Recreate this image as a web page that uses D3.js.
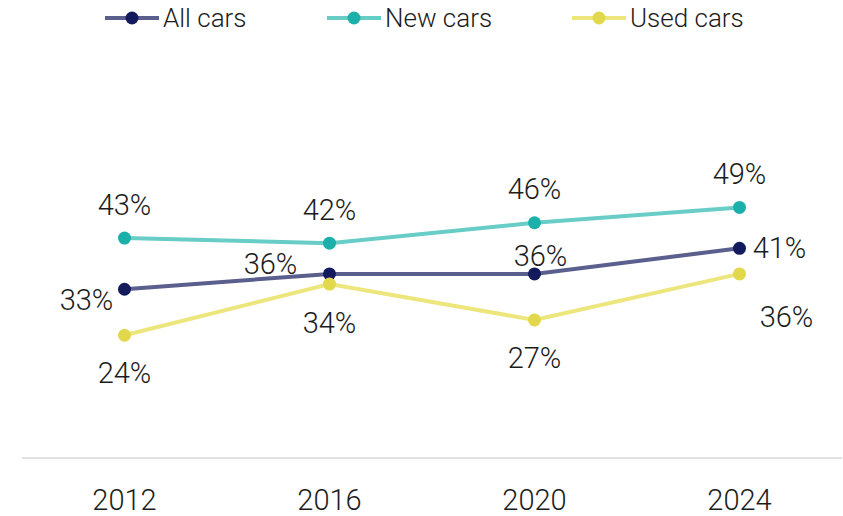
<!DOCTYPE html>
<html>
<head>
<meta charset="utf-8">
<script src="https://cdn.jsdelivr.net/npm/d3@7"></script>
<style>
  body { margin: 0; background: #fff; }
  svg text { font-family: Roboto, "Noto Sans", sans-serif; font-weight: 300; fill: #1c1c1c; }
</style>
</head>
<body>
<div id="chart"></div>
<script>
var years = ["2012", "2016", "2020", "2024"];
var allCars = [33, 36, 36, 41];
var newCars = [43, 42, 46, 49];
var usedCars = [24, 34, 27, 36];

var w = 843, h = 516;

var series = [
  { name: "All cars", values: allCars, line: "#5b5f8d", dot: "#141b5c" },
  { name: "New cars", values: newCars, line: "#68cdc6", dot: "#1bb0aa" },
  { name: "Used cars", values: usedCars, line: "#ece67c", dot: "#e2d84b" }
];

// label offsets (dx, dy) per series and year, tuned by eye
var offsets = [
  [[-38, 11], [-59, -10], [6, -18], [40, 0]],
  [[0, -33], [0, -33], [0, -34], [0, -34]],
  [[0, 38], [0, 39], [0, 38], [47, 43]]
];

var svg = d3.select("#chart").append("svg")
  .attr("width", w)
  .attr("height", h);

var x = d3.scalePoint()
  .domain(years)
  .range([22, 842])
  .padding(0.5);

var y = d3.scaleLinear()
  .domain([0, 70])
  .range([458, 100]);

// baseline axis
svg.append("line")
  .attr("x1", 22).attr("x2", 842)
  .attr("y1", y(0)).attr("y2", y(0))
  .attr("stroke", "#d9d9d9")
  .attr("stroke-width", 1.5);

svg.selectAll(".year")
  .data(years)
  .enter().append("text")
  .attr("class", "year")
  .attr("x", function(d){ return x(d); })
  .attr("y", 500)
  .attr("dy", ".35em")
  .attr("text-anchor", "middle")
  .attr("font-size", 29)
  .text(function(d){ return d; });

var line = d3.line()
  .x(function(d, i){ return x(years[i]); })
  .y(function(d){ return y(d); });

series.forEach(function(s, si){
  var g = svg.append("g");
  g.append("path")
    .datum(s.values)
    .attr("d", line)
    .attr("fill", "none")
    .attr("stroke", s.line)
    .attr("stroke-width", 4);

  g.selectAll("circle")
    .data(s.values)
    .enter().append("circle")
    .attr("cx", function(d, i){ return x(years[i]); })
    .attr("cy", function(d){ return y(d); })
    .attr("r", 6.5)
    .attr("fill", s.dot);

  g.selectAll(".lbl")
    .data(s.values)
    .enter().append("text")
    .attr("class", "lbl")
    .attr("x", function(d, i){ return x(years[i]) + offsets[si][i][0]; })
    .attr("y", function(d, i){ return y(d) + offsets[si][i][1]; })
    .attr("dy", ".35em")
    .attr("text-anchor", "middle")
    .attr("font-size", 29)
    .text(function(d){ return d + "%"; });
});

// legend
var legendX = [105, 327, 572];
var leg = svg.selectAll(".leg")
  .data(series)
  .enter().append("g")
  .attr("class", "leg")
  .attr("transform", function(d, i){ return "translate(" + legendX[i] + ",18)"; });

leg.append("line")
  .attr("x1", 0).attr("x2", 54)
  .attr("stroke", function(d){ return d.line; })
  .attr("stroke-width", 4);
leg.append("circle")
  .attr("cx", 27)
  .attr("r", 6.5)
  .attr("fill", function(d){ return d.dot; });
leg.append("text")
  .attr("x", 58)
  .attr("dy", ".35em")
  .attr("font-size", 26)
  .text(function(d){ return d.name; });
</script>
</body>
</html>
